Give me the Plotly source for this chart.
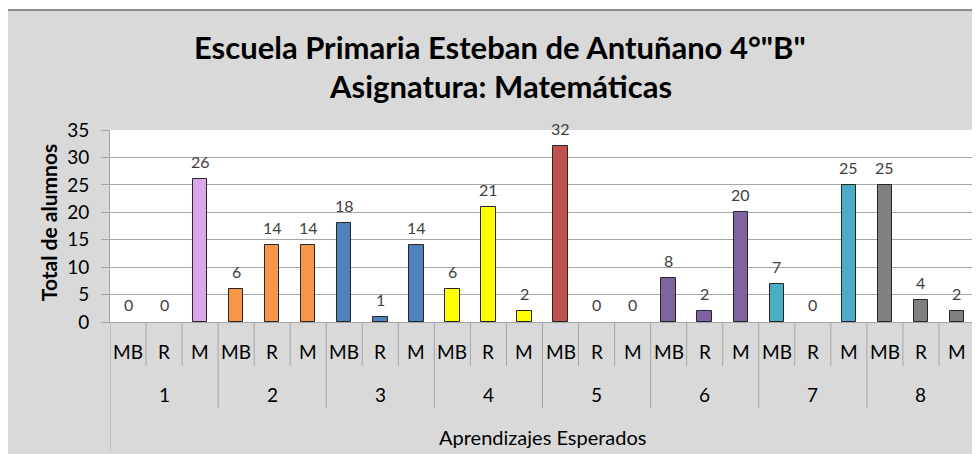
import plotly.graph_objects as go

# Datos
aprendizajes = ["1", "2", "3", "4", "5", "6", "7", "8"]
niveles = ["MB", "R", "M"]
mb = [0, 6, 18, 6, 32, 8, 7, 25]
r = [0, 14, 1, 21, 0, 2, 0, 4]
m = [26, 14, 14, 2, 0, 20, 25, 2]
colores = ["#D9A6EC", "#F79646", "#4F81BD", "#FFFF00",
           "#C0504D", "#8064A2", "#4BACC6", "#808080"]

FUENTE = "Lato"
FONDO = "#D9D9D9"
LINEA = "#A6A6A6"

# Aplanar las categorías en posiciones numéricas
xs, ys, cols, subs = [], [], [], []
for i, grupo in enumerate(aprendizajes):
    for j, (nivel, val) in enumerate(zip(niveles, [mb[i], r[i], m[i]])):
        xs.append(i * 3 + j + 0.5)
        ys.append(val)
        cols.append(colores[i])
        subs.append(nivel)

n_cat = len(xs)
# sin borde en las barras de valor 0
bordes = [1 if v > 0 else 0 for v in ys]

fig = go.Figure()
fig.add_trace(go.Bar(
    x=xs, y=ys,
    width=0.4,
    marker=dict(color=cols, line=dict(color="#262626", width=bordes)),
    hoverinfo="y",
    showlegend=False,
))

# Etiquetas de datos
for x, y in zip(xs, ys):
    fig.add_annotation(x=x, y=y, text=str(y), showarrow=False,
                       xref="x", yref="y", yanchor="bottom", yshift=6,
                       font=dict(family=FUENTE, size=16, color="#404040"))

# Títulos
fig.add_annotation(text="<b>Escuela Primaria Esteban de Antuñano 4°\"B\"</b>",
                   xref="paper", yref="paper", x=0.451, y=1.432,
                   showarrow=False, xanchor="center", yanchor="middle",
                   font=dict(family=FUENTE, size=31, color="#000000"))
fig.add_annotation(text="<b>Asignatura: Matemáticas</b>",
                   xref="paper", yref="paper", x=0.451, y=1.229,
                   showarrow=False, xanchor="center", yanchor="middle",
                   font=dict(family=FUENTE, size=31, color="#000000"))
fig.add_annotation(text="<b>Total de alumnos</b>", textangle=-90,
                   xref="paper", yref="paper", x=-0.0717, y=0.52,
                   showarrow=False, xanchor="center", yanchor="middle",
                   font=dict(family=FUENTE, size=21, color="#000000"))

# Etiquetas del eje de categorías (tres niveles)
for x, s in zip(xs, subs):
    fig.add_annotation(x=x, y=-0.156, xref="x", yref="paper", text=s,
                       showarrow=False, yanchor="middle",
                       font=dict(family=FUENTE, size=19, color="#000000"))
for i, g in enumerate(aprendizajes):
    fig.add_annotation(x=i * 3 + 1.5, y=-0.375, xref="x", yref="paper", text=g,
                       showarrow=False, yanchor="middle",
                       font=dict(family=FUENTE, size=19, color="#000000"))
fig.add_annotation(x=n_cat / 2, y=-0.599, xref="x", yref="paper",
                   text="Aprendizajes Esperados", showarrow=False, yanchor="middle",
                   font=dict(family=FUENTE, size=20, color="#000000"))

# Líneas divisorias del eje
for k in range(n_cat + 1):
    if k == 0 or k == n_cat:
        y1 = -0.667
    elif k % 3 == 0:
        y1 = -0.448
    else:
        y1 = -0.229
    fig.add_shape(type="line", xref="x", yref="paper", x0=k, x1=k, y0=0, y1=y1,
                  line=dict(color=LINEA, width=1))

# Marco exterior (recorte de la imagen original)
fig.add_shape(type="rect", xref="paper", yref="paper", x0=-0.3, x1=1.3,
              y0=1.625, y1=1.9, fillcolor="white", line_width=0, layer="below")
fig.add_shape(type="rect", xref="paper", yref="paper", x0=-0.3, x1=-0.1214,
              y0=-1, y1=1.9, fillcolor="white", line_width=0, layer="below")
fig.add_shape(type="line", xref="paper", yref="paper", x0=-0.1214, x1=1.3,
              y0=1.625, y1=1.625, line=dict(color="#8C8C8C", width=2))
fig.add_shape(type="line", xref="paper", yref="paper", x0=-0.1214, x1=-0.1214,
              y0=-1, y1=1.625, line=dict(color="#8C8C8C", width=2))

# la página añade 8 px de margen, por eso 972x446
fig.update_layout(
    width=972, height=446,
    margin=dict(l=102, r=5, t=122, b=132),
    paper_bgcolor=FONDO,
    plot_bgcolor="white",
    font=dict(family=FUENTE),
    xaxis=dict(range=[0, n_cat], showticklabels=False, showgrid=False,
               zeroline=False, showline=True, linecolor=LINEA, ticks="",
               fixedrange=True),
    yaxis=dict(range=[0, 35], dtick=5, showgrid=True, gridcolor=LINEA,
               zeroline=False, showline=True, linecolor=LINEA, mirror=True,
               ticks="outside", ticklen=8, tickcolor=LINEA,
               ticklabelstandoff=8,
               tickfont=dict(family=FUENTE, size=19, color="#000000"),
               fixedrange=True),
    bargap=0,
)

fig.write_html("out.html")
